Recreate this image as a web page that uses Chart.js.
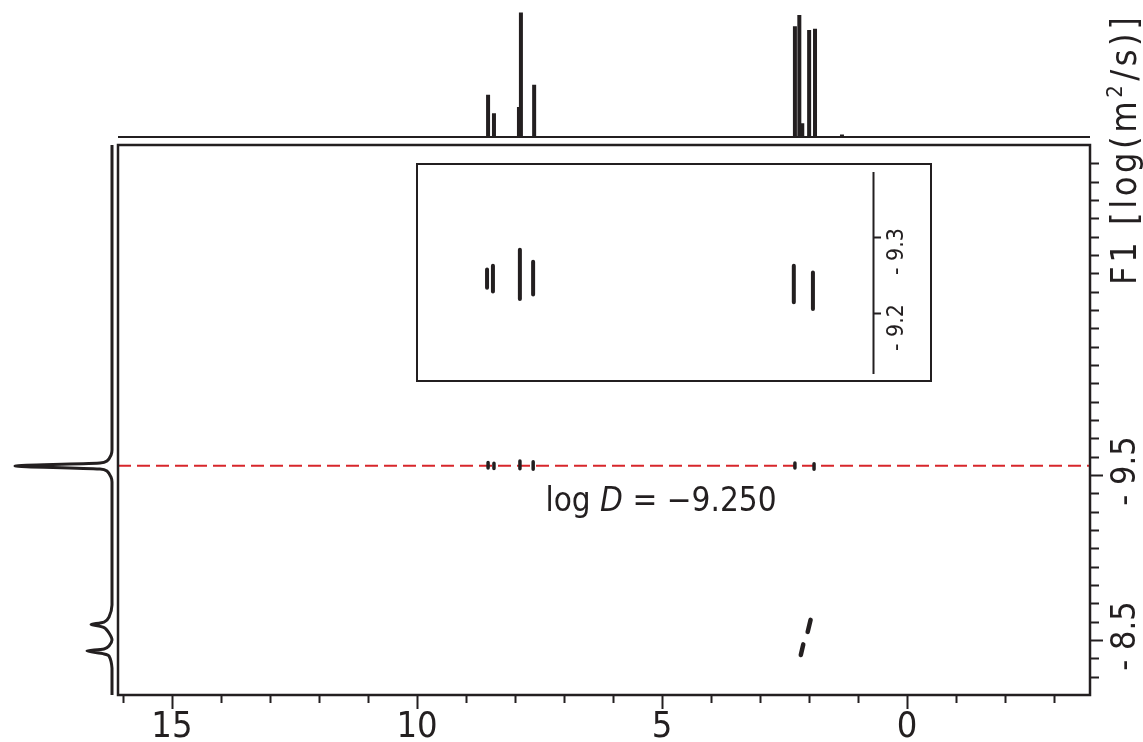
<!DOCTYPE html>
<html>
<head>
<meta charset="utf-8">
<script src="https://cdn.jsdelivr.net/npm/chart.js"></script>
<style>
  html, body { margin: 0; padding: 0; background: #ffffff; }
  #wrap { position: relative; width: 1143px; height: 742px; overflow: hidden; }
  #wrap canvas { position: absolute; }
  #main { left: 0; top: 0; }
  #top { left: 118px; top: 0; }
  #side { left: 0; top: 145px; }
  #inset { left: 416px; top: 163px; background: #ffffff; }
</style>
</head>
<body>
<div id="wrap">
  <canvas id="main" width="1143" height="742"></canvas>
  <canvas id="top" width="972" height="142"></canvas>
  <canvas id="side" width="118" height="550"></canvas>
  <canvas id="inset" width="516" height="219"></canvas>
</div>
<script>
//****************************************************************************/
//                                  Data
//****************************************************************************/
// F2 (ppm) range, drawn reversed; F1 (log D) range, increasing downwards
const ppmLow = -3.73, ppmHigh = 16.1;
const logDLow = -11, logDHigh = -8;

// 1H spectrum shown above the 2D map
const protonPpm = [8.55, 8.43, 7.92, 7.88, 7.61, 2.29, 2.20, 2.14, 2.00, 1.88, 1.33];
const protonHeight = [0.34, 0.19, 0.24, 1.0, 0.42, 0.89, 0.98, 0.11, 0.86, 0.87, 0.02];

// projection on the F1 axis (left)
const projLogD = [-11.0, -9.336, -9.309, -9.276, -9.265, -9.249, -9.233, -9.222, -9.189, -9.162,
  -8.491, -8.425, -8.398, -8.385, -8.368, -8.338, -8.300, -8.267, -8.251, -8.240, -8.224, -8.213, -8.147, -8.0];
const projIntensity = [0, 0, 0.010, 0.052, 0.124, 1.0, 0.124, 0.052, 0.010, 0,
  0, 0.031, 0.082, 0.216, 0.082, 0.031, 0, 0.031, 0.082, 0.258, 0.082, 0.031, 0, 0];

// cross peaks on the log D = -9.250 row
const crossPpm = [8.55, 8.43, 7.90, 7.63, 2.29, 1.90];
const crossLogDLo = [-9.268, -9.264, -9.276, -9.272, -9.266, -9.262];
const crossLogDHi = [-9.238, -9.236, -9.234, -9.232, -9.238, -9.232];

// the two faster-diffusing cross peaks (start / end of each streak)
const fastPpmA = [1.97, 2.12];
const fastPpmB = [2.03, 2.17];
const fastLogDA = [-8.410, -8.276];
const fastLogDB = [-8.344, -8.218];

// inset: zoom of the -9.25 row
const insetPpm = [8.57, 8.45, 7.90, 7.63, 2.31, 1.92];
const insetLogDLo = [-9.257, -9.262, -9.283, -9.267, -9.262, -9.253];
const insetLogDHi = [-9.233, -9.228, -9.218, -9.224, -9.214, -9.205];
const insetPpmLow = -0.51, insetPpmHigh = 10.02;
const insetLogDLow = -9.397, insetLogDHigh = -9.109;
const insetTicks = [-9.3, -9.2];
const insetTickText = ["- 9.3", "- 9.2"];

// reference line
const refLogD = -9.25;
const refText = ["log ", "D", " = \u22129.250"];

// tick labels
const xTickValues = [15, 10, 5, 0];
const yTickValues = [-9.2, -8.3];
const yTickText = ["- 9.5", "- 8.5"];

//****************************************************************************/
//                               Helpers
//****************************************************************************/
const INK = "#231f20";
const NARROW = "'Liberation Sans Narrow', 'DejaVu Sans Condensed', 'Liberation Sans', sans-serif";

function segments(xa, ya, xb, yb) {
  // list of two-point segments separated by gaps
  const out = [];
  for (let i = 0; i < xa.length; i++) {
    out.push({ x: xa[i], y: ya[i] }, { x: xb[i], y: yb[i] }, { x: xb[i], y: null });
  }
  return out;
}

const baseOptions = (xScale, yScale, padding) => ({
  responsive: false,
  animation: false,
  events: [],
  layout: { padding: padding },
  plugins: { legend: { display: false }, tooltip: { enabled: false } },
  scales: { x: xScale, y: yScale },
});

//****************************************************************************/
//                          Main 2D DOSY map
//****************************************************************************/
const mainFrame = {
  id: "mainFrame",
  afterDraw(chart) {
    const ctx = chart.ctx;
    const a = chart.chartArea;
    const xs = chart.scales.x;
    const ys = chart.scales.y;
    ctx.save();
    ctx.strokeStyle = INK;
    ctx.fillStyle = INK;
    ctx.lineWidth = 2.5;
    ctx.strokeRect(a.left, a.top, a.right - a.left, a.bottom - a.top);

    // bottom ticks
    ctx.lineWidth = 2;
    for (let v = -3; v <= 16; v++) {
      const px = Math.round(xs.getPixelForValue(v)) + 0.5;
      const len = v % 5 === 0 ? 14 : 8;
      ctx.beginPath();
      ctx.moveTo(px, a.bottom);
      ctx.lineTo(px, a.bottom + len);
      ctx.stroke();
    }
    ctx.font = "36px " + NARROW;
    ctx.textAlign = "center";
    ctx.textBaseline = "alphabetic";
    xTickValues.forEach(v => ctx.fillText(String(v), xs.getPixelForValue(v), 737));

    // right ticks
    for (let i = -109; i <= -81; i++) {
      const v = i / 10;
      const py = Math.round(ys.getPixelForValue(v)) + 0.5;
      const major = yTickValues.some(t => Math.abs(t - v) < 1e-6);
      ctx.beginPath();
      ctx.moveTo(a.right, py);
      ctx.lineTo(a.right + (major ? 13 : 9), py);
      ctx.stroke();
    }
    ctx.font = "34px " + NARROW;
    yTickValues.forEach((v, i) => {
      ctx.save();
      ctx.translate(1135, ys.getPixelForValue(v) - 4);
      ctx.rotate(-Math.PI / 2);
      ctx.textAlign = "center";
      ctx.fillText(yTickText[i], 0, 0);
      ctx.restore();
    });

    // axis title, reading upwards
    ctx.save();
    ctx.translate(1136, 285);
    ctx.rotate(-Math.PI / 2);
    ctx.textAlign = "left";
    ctx.letterSpacing = "3.5px";
    ctx.font = "36px " + NARROW;
    let x = 0;
    const part1 = "F1 [log(m";
    ctx.fillText(part1, x, 0);
    x += ctx.measureText(part1).width;
    ctx.font = "22px " + NARROW;
    ctx.fillText("2", x, -14);
    x += ctx.measureText("2").width + 1;
    ctx.font = "36px " + NARROW;
    ctx.fillText("/s)]", x, 0);
    ctx.restore();

    // annotation under the dashed line
    ctx.textAlign = "left";
    const fonts = ["33px " + NARROW, "italic 33px " + NARROW, "33px " + NARROW];
    let w = 0;
    refText.forEach((t, i) => { ctx.font = fonts[i]; w += ctx.measureText(t).width; });
    let tx = 661 - w / 2;
    refText.forEach((t, i) => {
      ctx.font = fonts[i];
      ctx.fillText(t, tx, 511);
      tx += ctx.measureText(t).width;
    });
    ctx.restore();
  },
};

new Chart(document.getElementById("main"), {
  type: "scatter",
  data: {
    datasets: [
      {
        data: segments(crossPpm, crossLogDLo, crossPpm, crossLogDHi),
        showLine: true,
        spanGaps: false,
        borderColor: INK,
        borderWidth: 3.5,
        borderCapStyle: "round",
        pointRadius: 0,
        order: 1,
      },
      {
        data: segments(fastPpmA, fastLogDA, fastPpmB, fastLogDB),
        showLine: true,
        spanGaps: false,
        borderColor: INK,
        borderWidth: 4.5,
        borderCapStyle: "round",
        pointRadius: 0,
        order: 1,
      },
      {
        data: [{ x: ppmHigh, y: refLogD }, { x: ppmLow, y: refLogD }],
        showLine: true,
        borderColor: "#d7262b",
        borderWidth: 2,
        borderDash: [13, 6],
        pointRadius: 0,
        order: 2,
      },
    ],
  },
  options: baseOptions(
    { type: "linear", min: ppmLow, max: ppmHigh, reverse: true, display: false },
    { type: "linear", min: logDLow, max: logDHigh, reverse: true, display: false },
    { left: 118, right: 53, top: 145, bottom: 47 }
  ),
  plugins: [mainFrame],
});

//****************************************************************************/
//                        1H spectrum (top trace)
//****************************************************************************/
new Chart(document.getElementById("top"), {
  type: "scatter",
  data: {
    datasets: [
      {
        data: [{ x: ppmHigh, y: 0 }, { x: ppmLow, y: 0 }],
        showLine: true,
        borderColor: INK,
        borderWidth: 2,
        pointRadius: 0,
        clip: false,
      },
      {
        data: segments(protonPpm, protonPpm.map(() => 0), protonPpm, protonHeight),
        showLine: true,
        spanGaps: false,
        borderColor: INK,
        borderWidth: 4,
        pointRadius: 0,
        clip: false,
      },
    ],
  },
  options: baseOptions(
    { type: "linear", min: ppmLow, max: ppmHigh, reverse: true, display: false },
    { type: "linear", min: 0, max: 1.1, display: false },
    { left: 0, right: 0, top: 0, bottom: 5 }
  ),
});

//****************************************************************************/
//                       F1 projection (left trace)
//****************************************************************************/
new Chart(document.getElementById("side"), {
  type: "scatter",
  data: {
    datasets: [
      {
        data: projLogD.map((d, i) => ({ x: projIntensity[i], y: d })),
        showLine: true,
        borderColor: INK,
        borderWidth: 3,
        tension: 0.25,
        pointRadius: 0,
        clip: false,
      },
    ],
  },
  options: baseOptions(
    { type: "linear", min: 0, max: 1.155, reverse: true, display: false },
    { type: "linear", min: logDLow, max: logDHigh, reverse: true, display: false },
    { left: 0, right: 6, top: 0, bottom: 0 }
  ),
});

//****************************************************************************/
//                                 Inset
//****************************************************************************/
const insetFrame = {
  id: "insetFrame",
  afterDraw(chart) {
    const ctx = chart.ctx;
    const ys = chart.scales.y;
    ctx.save();
    ctx.strokeStyle = INK;
    ctx.fillStyle = INK;
    ctx.lineWidth = 2;
    ctx.strokeRect(1, 1, chart.width - 2, chart.height - 2);
    // small vertical axis
    ctx.beginPath();
    ctx.moveTo(457.5, 9);
    ctx.lineTo(457.5, 211);
    ctx.stroke();
    insetTicks.forEach((v, i) => {
      const py = Math.round(ys.getPixelForValue(v)) + 0.5;
      ctx.beginPath();
      ctx.moveTo(457, py);
      ctx.lineTo(465, py);
      ctx.stroke();
      ctx.save();
      ctx.translate(487, py + 14);
      ctx.rotate(-Math.PI / 2);
      ctx.textAlign = "center";
      ctx.font = "23px " + NARROW;
      ctx.fillText(insetTickText[i], 0, 0);
      ctx.restore();
    });
    ctx.restore();
  },
};

new Chart(document.getElementById("inset"), {
  type: "scatter",
  data: {
    datasets: [
      {
        data: segments(insetPpm, insetLogDLo, insetPpm, insetLogDHi),
        showLine: true,
        spanGaps: false,
        borderColor: INK,
        borderWidth: 4,
        borderCapStyle: "round",
        pointRadius: 0,
      },
    ],
  },
  options: baseOptions(
    { type: "linear", min: insetPpmLow, max: insetPpmHigh, reverse: true, display: false },
    { type: "linear", min: insetLogDLow, max: insetLogDHigh, reverse: true, display: false },
    { left: 0, right: 0, top: 0, bottom: 0 }
  ),
  plugins: [insetFrame],
});
</script>
</body>
</html>
